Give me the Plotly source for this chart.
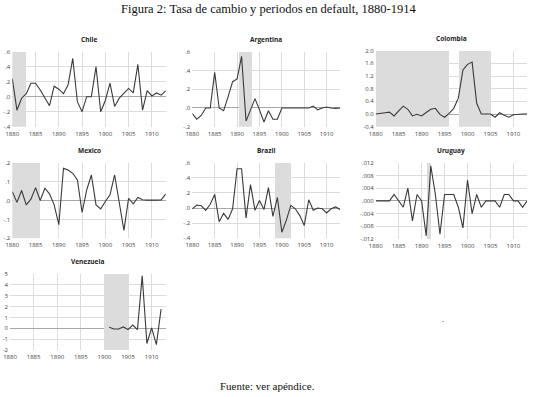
import plotly.graph_objects as go

W, H = 537, 397

years = list(range(1880, 1914))

chile = [0.24, -0.18, -0.02, 0.04, 0.18, 0.18, 0.09, -0.02, -0.12, 0.14,
         0.10, 0.04, 0.16, 0.51, -0.07, -0.20, 0.00, 0.00, 0.40, -0.20,
         -0.05, 0.18, -0.13, -0.02, 0.04, 0.11, 0.05, 0.43, -0.18, 0.08,
         0.01, 0.05, 0.02, 0.08]
argentina = [-0.06, -0.12, -0.08, 0.00, 0.00, 0.38, 0.00, -0.03, 0.12, 0.28,
             0.31, 0.55, -0.14, -0.03, 0.10, -0.02, -0.15, -0.03, -0.12, -0.12,
             0.00, 0.00, 0.00, -0.005, 0.00, -0.005, 0.00, 0.02, -0.02, 0.00,
             0.01, 0.00, -0.005, 0.00]
colombia = [0.00, 0.01, 0.04, 0.06, -0.06, 0.10, 0.25, 0.15, -0.06, -0.01,
            -0.06, 0.05, 0.15, 0.18, -0.01, -0.10, 0.02, 0.18, 0.50, 1.39,
            1.57, 1.64, 0.34, 0.00, 0.00, 0.00, -0.10, 0.04, -0.04, -0.10,
            -0.02, 0.00, 0.00, 0.00]
mexico = [0.047, -0.010, 0.053, -0.023, 0.007, 0.068, 0.000, 0.065, 0.035, -0.023,
          -0.128, 0.170, 0.161, 0.144, 0.109, -0.063, 0.056, 0.135, -0.023, -0.044,
          -0.005, 0.030, 0.135, -0.020, -0.158, 0.012, -0.018, 0.016, 0.004, 0.002,
          0.001, 0.002, 0.003, 0.035]
brazil = [-0.01, 0.04, 0.03, -0.03, 0.05, 0.18, -0.18, -0.07, -0.15, -0.01,
          0.52, 0.52, -0.13, 0.31, -0.03, 0.10, -0.02, 0.27, -0.11, 0.14,
          -0.32, -0.16, 0.035, -0.01, -0.10, -0.23, 0.11, -0.03, 0.00, -0.01,
          -0.065, -0.01, 0.015, -0.02]
uruguay = [0.0, 0.0, 0.0, 0.0, 0.002, 0.0, -0.002, 0.004, -0.0063, 0.002,
           0.0, -0.011, 0.011, 0.002, -0.0105, 0.002, 0.002, 0.002, -0.002, -0.0085,
           0.0065, -0.004, 0.002, -0.002, 0.0, 0.0, 0.0, -0.002, 0.002, 0.002,
           0.0, 0.0, -0.002, 0.0]
venezuela_years = list(range(1901, 1913))
venezuela = [0.10, -0.06, -0.06, 0.12, -0.12, 0.30, -0.12, 4.83, -1.40, 0.03,
             -1.50, 1.77]

# default periods (start, end) per country
chile_default = [(1880, 1883)]
argentina_default = [(1890.5, 1893.5)]
colombia_default = [(1880, 1896), (1898, 1905)]
mexico_default = [(1880, 1886)]
brazil_default = [(1898.6, 1902)]
uruguay_default = [(1891, 1892)]
venezuela_default = [(1900, 1905)]

x_tickvals = [1880, 1885, 1890, 1895, 1900, 1905, 1910]
x_ticktext = ["1880", "1885", "1890", "1895", "1900", "1905", "1910"]

chile_ticks = [-0.4, -0.2, 0.0, 0.2, 0.4, 0.6]
chile_ticktext = ["-.4", "-.2", ".0", ".2", ".4", ".6"]
argentina_ticks = [-0.2, 0.0, 0.2, 0.4, 0.6]
argentina_ticktext = ["-.2", ".0", ".2", ".4", ".6"]
colombia_ticks = [-0.4, 0.0, 0.4, 0.8, 1.2, 1.6, 2.0]
colombia_ticktext = ["-0.4", "0.0", "0.4", "0.8", "1.2", "1.6", "2.0"]
mexico_ticks = [-0.2, -0.1, 0.0, 0.1, 0.2]
mexico_ticktext = ["-.2", "-.1", ".0", ".1", ".2"]
brazil_ticks = [-0.4, -0.2, 0.0, 0.2, 0.4, 0.6]
brazil_ticktext = ["-.4", "-.2", ".0", ".2", ".4", ".6"]
uruguay_ticks = [-0.012, -0.008, -0.004, 0.0, 0.004, 0.008, 0.012]
uruguay_ticktext = ["-.012", "-.008", "-.004", ".000", ".004", ".008", ".012"]
venezuela_ticks = [-2, -1, 0, 1, 2, 3, 4, 5]
venezuela_ticktext = ["-2", "-1", "0", "1", "2", "3", "4", "5"]

panels = [
    dict(name="Chile", x=years, y=chile, shade=chile_default,
         tv=chile_ticks, tt=chile_ticktext, px=(12.3, 165.8), py=(51.7, 126.7)),
    dict(name="Argentina", x=years, y=argentina, shade=argentina_default,
         tv=argentina_ticks, tt=argentina_ticktext, px=(192.3, 340.1), py=(51.7, 126.7)),
    dict(name="Colombia", x=years, y=colombia, shade=colombia_default,
         tv=colombia_ticks, tt=colombia_ticktext, px=(375.7, 527.2), py=(50.7, 126.7)),
    dict(name="Mexico", x=years, y=mexico, shade=mexico_default,
         tv=mexico_ticks, tt=mexico_ticktext, px=(12.3, 165.8), py=(162.7, 238.3)),
    dict(name="Brazil", x=years, y=brazil, shade=brazil_default,
         tv=brazil_ticks, tt=brazil_ticktext, px=(192.3, 340.1), py=(162.7, 238.3)),
    dict(name="Uruguay", x=years, y=uruguay, shade=uruguay_default,
         tv=uruguay_ticks, tt=uruguay_ticktext, px=(375.7, 527.2), py=(162.7, 239.0)),
    dict(name="Venezuela", x=venezuela_years, y=venezuela, shade=venezuela_default,
         tv=venezuela_ticks, tt=venezuela_ticktext, px=(10.0, 165.8), py=(274.0, 350.0)),
]

fig = go.Figure()
layout = dict(
    width=W, height=H, margin=dict(l=0, r=0, t=0, b=0, autoexpand=False),
    paper_bgcolor="white", plot_bgcolor="white", showlegend=False,
    font=dict(family="Open Sans, Liberation Sans, sans-serif", size=6, color="#444"),
    bargap=0,
)
annotations = []

for i, p in enumerate(panels):
    n = "" if i == 0 else str(i + 1)
    xa, ya = "x" + n, "y" + n
    lo, hi = p["tv"][0], p["tv"][-1]
    # shaded default periods as bars spanning the full y range
    fig.add_trace(go.Bar(
        x=[(s0 + s1) / 2 for s0, s1 in p["shade"]],
        width=[s1 - s0 for s0, s1 in p["shade"]],
        y=[hi - lo for _ in p["shade"]], base=[lo for _ in p["shade"]],
        marker=dict(color="#dcdcdc", line=dict(width=0)),
        xaxis=xa, yaxis=ya, hoverinfo="skip"))
    fig.add_trace(go.Scatter(x=p["x"], y=p["y"], mode="lines",
                             line=dict(color="#3a3a3a", width=1.1),
                             xaxis=xa, yaxis=ya, hoverinfo="skip"))
    xd = [p["px"][0] / W, p["px"][1] / W]
    yd = [1 - p["py"][1] / H, 1 - p["py"][0] / H]
    layout["xaxis" + n] = dict(
        domain=xd, range=[1880, 1913], anchor=ya, tickvals=x_tickvals,
        ticktext=x_ticktext, showgrid=True, gridcolor="#dcdcdc", gridwidth=1,
        zeroline=False, showline=False, ticks="", ticklabelstandoff=2,
        automargin=False, tickfont=dict(size=6, color="#444"),
    )
    layout["yaxis" + n] = dict(
        domain=yd, range=[lo, hi], anchor=xa, tickvals=p["tv"],
        ticktext=p["tt"], showgrid=True, gridcolor="#dcdcdc", gridwidth=1,
        zeroline=True, zerolinecolor="#a8a8a8", zerolinewidth=1,
        showline=False, ticks="", ticklabelstandoff=1,
        automargin=False, tickfont=dict(size=6, color="#444"),
    )
    annotations.append(dict(text="<b>" + p["name"] + "</b>", xref="paper", yref="paper",
                            x=(xd[0] + xd[1]) / 2, y=1 - (p["py"][0] - 12.5) / H,
                            showarrow=False, xanchor="center", yanchor="middle",
                            font=dict(size=6.5, color="#222",
                                      family="Open Sans, Liberation Sans, sans-serif")))

annotations.append(dict(text="Figura 2: Tasa de cambio y periodos en default, 1880-1914",
                        xref="paper", yref="paper", x=0.5, y=1 - 9 / H,
                        showarrow=False, xanchor="center", yanchor="middle",
                        font=dict(family="Liberation Serif, Times New Roman, serif",
                                  size=12.5, color="#111")))
annotations.append(dict(text="Fuente: ver apéndice.", xref="paper", yref="paper",
                        x=267 / W, y=1 - 386 / H, showarrow=False,
                        xanchor="center", yanchor="middle",
                        font=dict(family="Liberation Serif, Times New Roman, serif",
                                  size=11, color="#111")))
annotations.append(dict(text=".", xref="paper", yref="paper",
                        x=443 / W, y=1 - 318 / H, showarrow=False,
                        xanchor="center", yanchor="middle",
                        font=dict(size=8, color="#333")))

layout["annotations"] = annotations
fig.update_layout(**layout)
fig.write_html("out.html", config={"displayModeBar": False},
               post_script="document.body.style.margin='0';document.body.style.padding='0';")
